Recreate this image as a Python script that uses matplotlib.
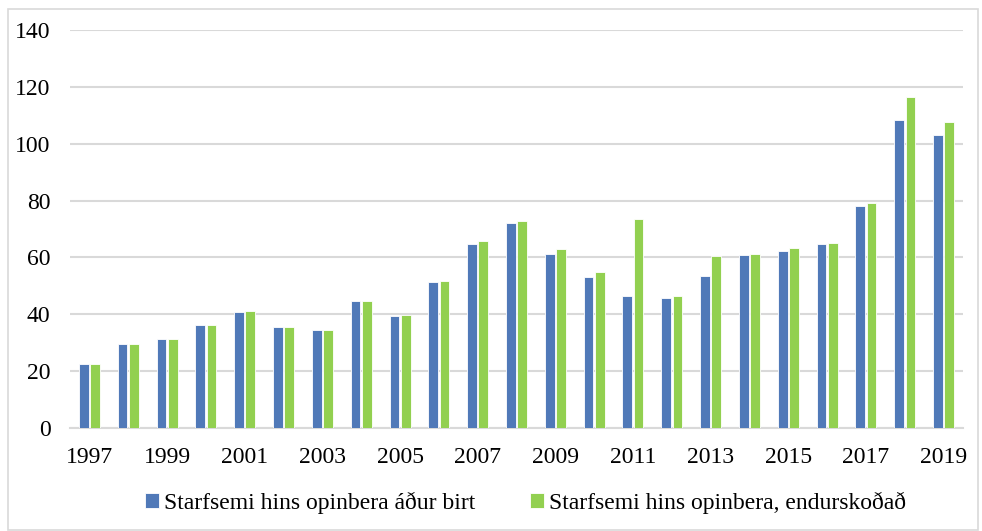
import numpy as np
import matplotlib.pyplot as plt
from matplotlib.patches import Rectangle

years = list(range(1997, 2020))
adur_birt = [22.6, 29.4, 31.3, 36.2, 40.8, 35.4, 34.5, 44.7, 39.4, 51.4, 64.8, 72.2,
             61.3, 53.2, 46.3, 45.9, 53.3, 60.9, 62.2, 64.7, 78.0, 108.3, 103.0]
endurskodad = [22.6, 29.4, 31.3, 36.2, 41.1, 35.4, 34.5, 44.7, 39.8, 51.7, 65.7, 72.8,
               63.1, 55.0, 73.6, 46.3, 60.4, 61.2, 63.3, 65.1, 79.1, 116.3, 107.8]
labels = ['Starfsemi hins opinbera áður birt', 'Starfsemi hins opinbera, endurskoðað']

plt.rcParams['font.family'] = ['Liberation Serif', 'DejaVu Serif']

fig = plt.figure(figsize=(9.82, 5.31), dpi=100)
ax = fig.add_axes([70/982, 1-428/531, 893/982, 398/531])

x = np.arange(len(years))
w = 0.25
ax.bar(x - w/2 - 0.02, adur_birt, w, color='#5079B8', edgecolor='white', linewidth=0.6,
       label=labels[0], zorder=3)
ax.bar(x + w/2 + 0.02, endurskodad, w, color='#92D050', edgecolor='white', linewidth=0.6,
       label=labels[1], zorder=3)

ax.set_xlim(-0.5, len(years) - 0.5)
ax.set_ylim(0, 140)
ax.set_yticks(range(0, 141, 20))
ax.set_xticks(x[::2])
ax.set_xticklabels([str(y) for y in years[::2]])
ax.tick_params(axis='both', length=0, labelsize=17, colors='black')
ax.tick_params(axis='x', pad=14)
ax.tick_params(axis='y', pad=14)
ax.grid(axis='y', color='#d9d9d9', linewidth=1.5, zorder=0)
for s in ['top', 'right', 'left']:
    ax.spines[s].set_visible(False)
ax.spines['bottom'].set_color('#d9d9d9')
ax.spines['bottom'].set_linewidth(1.5)

leg = fig.legend(loc='center', bbox_to_anchor=(0.535, 1-503/531), ncol=2, frameon=False,
                 fontsize=17, handlelength=0.62, handleheight=0.62, handletextpad=0.2,
                 columnspacing=2.3)

fig.patches.append(Rectangle((8/982, 1/531), 970/982, 521/531, transform=fig.transFigure,
                             fill=False, edgecolor='#d9d9d9', linewidth=1.2))

fig.savefig('out.png', dpi=100)
